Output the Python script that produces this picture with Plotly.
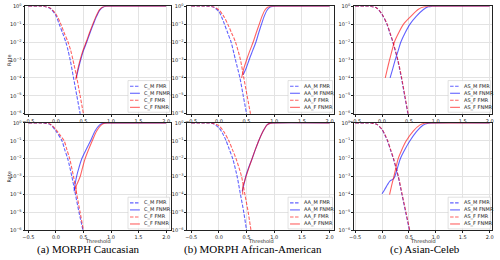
import plotly.graph_objects as go

# ---------------- data ----------------
x_tick_vals = [-0.5, 0.0, 0.5, 1.0, 1.5, 2.0]
x_tick_text = ["−0.5", "0.0", "0.5", "1.0", "1.5", "2.0"]
y_tick_vals = [1, 1e-1, 1e-2, 1e-3, 1e-4, 1e-5, 1e-6]
y_tick_text = ["10<sup>0</sup>", "10<sup>−1</sup>", "10<sup>−2</sup>", "10<sup>−3</sup>",
               "10<sup>−4</sup>", "10<sup>−5</sup>", "10<sup>−6</sup>"]

captions = ["(a) MORPH Caucasian", "(b) MORPH African-American", "(c) Asian-Celeb"]
group_prefix = ["C", "AA", "AS"]

# --- top row ---
# (a) Caucasian, top
top_c_m_fmr_t = [-0.5, -0.3, -0.2, -0.1, 0.0, 0.06, 0.12, 0.18, 0.22, 0.26, 0.32, 0.38, 0.44, 0.47]
top_c_m_fmr_r = [1.0, 0.995, 0.96, 0.74, 0.3, 0.1, 0.033, 0.01, 3.5e-3, 1e-3, 1e-4, 1e-5, 1e-6, 3e-7]
top_c_m_fnmr_t = [0.37, 0.41, 0.45, 0.50, 0.56, 0.62, 0.68, 0.74, 0.80, 0.86, 0.92, 1.0, 2.0]
top_c_m_fnmr_r = [1e-4, 3.3e-4, 1e-3, 3.3e-3, 1e-2, 3.3e-2, 0.1, 0.28, 0.62, 0.9, 0.99, 1.0, 1.0]
top_c_f_fmr_t = [-0.5, -0.3, -0.2, -0.1, 0.0, 0.09, 0.15, 0.22, 0.27, 0.31, 0.38, 0.44, 0.50, 0.53]
top_c_f_fmr_r = [1.0, 0.995, 0.965, 0.78, 0.37, 0.1, 0.033, 0.01, 3.3e-3, 1e-3, 1e-4, 1e-5, 1e-6, 3e-7]
top_c_f_fnmr_t = [0.36, 0.40, 0.44, 0.49, 0.55, 0.61, 0.67, 0.73, 0.79, 0.85, 0.91, 1.0, 2.0]
top_c_f_fnmr_r = [8e-5, 3.3e-4, 1e-3, 3.3e-3, 1e-2, 3.3e-2, 0.1, 0.28, 0.62, 0.9, 0.99, 1.0, 1.0]

# (b) African-American, top
top_aa_m_fmr_t = [-0.5, -0.3, -0.2, -0.1, 0.0, 0.05, 0.10, 0.16, 0.22, 0.30, 0.38, 0.44, 0.50, 0.53]
top_aa_m_fmr_r = [1.0, 0.998, 0.985, 0.9, 0.5, 0.25, 0.1, 0.032, 0.01, 1e-3, 1e-4, 1e-5, 1e-6, 3e-7]
top_aa_m_fnmr_t = [0.44, 0.49, 0.545, 0.61, 0.67, 0.72, 0.77, 0.82, 0.87, 0.92, 0.97, 1.05, 2.0]
top_aa_m_fnmr_r = [1.5e-4, 3.3e-4, 1e-3, 3.3e-3, 1e-2, 3.3e-2, 0.1, 0.28, 0.6, 0.88, 0.98, 1.0, 1.0]
top_aa_f_fmr_t = [-0.5, -0.3, -0.2, -0.1, 0.0, 0.08, 0.16, 0.23, 0.30, 0.39, 0.45, 0.51, 0.57, 0.60]
top_aa_f_fmr_r = [1.0, 0.998, 0.99, 0.93, 0.62, 0.3, 0.1, 0.032, 0.01, 1e-3, 1e-4, 1e-5, 1e-6, 3e-7]
top_aa_f_fnmr_t = [0.41, 0.45, 0.50, 0.56, 0.62, 0.675, 0.73, 0.78, 0.83, 0.88, 0.93, 1.0, 2.0]
top_aa_f_fnmr_r = [1e-4, 3.3e-4, 1e-3, 3.3e-3, 1e-2, 3.3e-2, 0.1, 0.28, 0.6, 0.88, 0.98, 1.0, 1.0]

# (c) Asian-Celeb, top
top_as_m_fmr_t = [-0.5, -0.3, -0.2, -0.1, 0.0, 0.09, 0.145, 0.20, 0.29, 0.36, 0.42, 0.48, 0.51]
top_as_m_fmr_r = [1.0, 0.995, 0.97, 0.8, 0.35, 0.1, 0.032, 0.01, 1e-3, 1e-4, 1e-5, 1e-6, 3e-7]
top_as_m_fnmr_t = [0.15, 0.20, 0.245, 0.30, 0.35, 0.43, 0.52, 0.64, 0.77, 0.86, 0.93, 1.0, 2.0]
top_as_m_fnmr_r = [1e-4, 3.3e-4, 1e-3, 3.3e-3, 1e-2, 3.3e-2, 0.1, 0.28, 0.66, 0.93, 0.99, 1.0, 1.0]
top_as_f_fmr_t = [-0.5, -0.3, -0.2, -0.1, 0.0, 0.095, 0.15, 0.205, 0.295, 0.365, 0.425, 0.485, 0.515]
top_as_f_fmr_r = [1.0, 0.995, 0.97, 0.8, 0.36, 0.1, 0.032, 0.01, 1e-3, 1e-4, 1e-5, 1e-6, 3e-7]
top_as_f_fnmr_t = [0.06, 0.10, 0.14, 0.185, 0.23, 0.31, 0.40, 0.54, 0.67, 0.78, 0.86, 0.95, 2.0]
top_as_f_fnmr_r = [1e-4, 3.3e-4, 1e-3, 3.3e-3, 1e-2, 3.3e-2, 0.1, 0.28, 0.66, 0.93, 0.99, 1.0, 1.0]

# --- bottom row ---
# (a) Caucasian, bottom
bot_c_m_fmr_t = [-0.5, -0.3, -0.2, -0.1, 0.0, 0.11, 0.16, 0.215, 0.29, 0.355, 0.42, 0.49, 0.52]
bot_c_m_fmr_r = [1.0, 0.995, 0.97, 0.8, 0.35, 0.1, 0.032, 0.01, 1e-3, 1e-4, 1e-5, 1e-6, 3e-7]
bot_c_m_fnmr_t = [0.33, 0.35, 0.375, 0.42, 0.47, 0.55, 0.63, 0.71, 0.79, 0.85, 0.92, 1.0, 2.0]
bot_c_m_fnmr_r = [1.5e-4, 4e-4, 1e-3, 3.3e-3, 1e-2, 3.3e-2, 0.1, 0.35, 0.75, 0.95, 0.995, 1.0, 1.0]
bot_c_f_fmr_t = [-0.5, -0.3, -0.2, -0.1, 0.0, 0.08, 0.15, 0.20, 0.25, 0.32, 0.38, 0.44, 0.50, 0.53]
bot_c_f_fmr_r = [1.0, 0.996, 0.975, 0.84, 0.43, 0.2, 0.1, 0.032, 0.01, 1e-3, 1e-4, 1e-5, 1e-6, 3e-7]
bot_c_f_fnmr_t = [0.365, 0.37, 0.40, 0.44, 0.485, 0.53, 0.595, 0.66, 0.74, 0.82, 0.88, 0.95, 1.03, 2.0]
bot_c_f_fnmr_r = [1.1e-4, 3e-4, 5e-4, 1e-3, 3.3e-3, 1e-2, 3.3e-2, 0.1, 0.35, 0.75, 0.95, 0.995, 1.0, 1.0]

# (b) African-American, bottom
bot_aa_m_fmr_t = [-0.5, -0.3, -0.2, -0.1, 0.0, 0.07, 0.13, 0.19, 0.25, 0.33, 0.39, 0.45, 0.50, 0.53]
bot_aa_m_fmr_r = [1.0, 0.998, 0.985, 0.9, 0.53, 0.25, 0.1, 0.032, 0.01, 1e-3, 1e-4, 1e-5, 1e-6, 3e-7]
bot_aa_m_fnmr_t = [0.42, 0.45, 0.485, 0.54, 0.60, 0.66, 0.72, 0.80, 0.87, 0.93, 1.0, 2.0]
bot_aa_m_fnmr_r = [1.5e-4, 3.3e-4, 1e-3, 3.3e-3, 1e-2, 3.3e-2, 0.1, 0.35, 0.78, 0.97, 1.0, 1.0]
bot_aa_f_fmr_t = [-0.5, -0.3, -0.2, -0.1, 0.0, 0.09, 0.18, 0.245, 0.31, 0.41, 0.47, 0.53, 0.58, 0.61]
bot_aa_f_fmr_r = [1.0, 0.998, 0.99, 0.94, 0.7, 0.32, 0.1, 0.032, 0.01, 1e-3, 1e-4, 1e-5, 1e-6, 3e-7]
bot_aa_f_fnmr_t = [0.43, 0.435, 0.46, 0.49, 0.545, 0.60, 0.66, 0.72, 0.80, 0.87, 0.93, 1.0, 2.0]
bot_aa_f_fnmr_r = [1e-4, 3e-4, 5e-4, 1e-3, 3.3e-3, 1e-2, 3.3e-2, 0.1, 0.35, 0.78, 0.97, 1.0, 1.0]

# (c) Asian-Celeb, bottom
bot_as_m_fmr_t = [-0.5, -0.3, -0.2, -0.1, 0.0, 0.05, 0.10, 0.155, 0.21, 0.30, 0.37, 0.44, 0.51, 0.54]
bot_as_m_fmr_r = [1.0, 0.996, 0.975, 0.84, 0.42, 0.22, 0.1, 0.032, 0.01, 1e-3, 1e-4, 1e-5, 1e-6, 3e-7]
bot_as_m_fnmr_t = [0.0, 0.05, 0.10, 0.15, 0.20, 0.23, 0.27, 0.34, 0.43, 0.52, 0.64, 0.76, 0.86, 0.95, 2.0]
bot_as_m_fnmr_r = [1.1e-4, 1.9e-4, 3.5e-4, 5.8e-4, 7e-4, 9e-4, 2e-3, 1e-2, 3.5e-2, 0.1, 0.32, 0.74, 0.96, 1.0, 1.0]
bot_as_f_fmr_t = [-0.5, -0.3, -0.2, -0.1, 0.0, 0.055, 0.105, 0.16, 0.215, 0.305, 0.375, 0.445, 0.515, 0.545]
bot_as_f_fmr_r = [1.0, 0.996, 0.975, 0.84, 0.43, 0.22, 0.1, 0.032, 0.01, 1e-3, 1e-4, 1e-5, 1e-6, 3e-7]
bot_as_f_fnmr_t = [0.14, 0.18, 0.22, 0.26, 0.30, 0.37, 0.45, 0.58, 0.70, 0.79, 0.88, 0.95, 2.0]
bot_as_f_fnmr_r = [1e-4, 3.3e-4, 1e-3, 3.3e-3, 1e-2, 3.3e-2, 0.1, 0.35, 0.75, 0.95, 0.995, 1.0, 1.0]

panels = [
    [  # top row
        [(top_c_m_fmr_t, top_c_m_fmr_r), (top_c_m_fnmr_t, top_c_m_fnmr_r),
         (top_c_f_fmr_t, top_c_f_fmr_r), (top_c_f_fnmr_t, top_c_f_fnmr_r)],
        [(top_aa_m_fmr_t, top_aa_m_fmr_r), (top_aa_m_fnmr_t, top_aa_m_fnmr_r),
         (top_aa_f_fmr_t, top_aa_f_fmr_r), (top_aa_f_fnmr_t, top_aa_f_fnmr_r)],
        [(top_as_m_fmr_t, top_as_m_fmr_r), (top_as_m_fnmr_t, top_as_m_fnmr_r),
         (top_as_f_fmr_t, top_as_f_fmr_r), (top_as_f_fnmr_t, top_as_f_fnmr_r)],
    ],
    [  # bottom row
        [(bot_c_m_fmr_t, bot_c_m_fmr_r), (bot_c_m_fnmr_t, bot_c_m_fnmr_r),
         (bot_c_f_fmr_t, bot_c_f_fmr_r), (bot_c_f_fnmr_t, bot_c_f_fnmr_r)],
        [(bot_aa_m_fmr_t, bot_aa_m_fmr_r), (bot_aa_m_fnmr_t, bot_aa_m_fnmr_r),
         (bot_aa_f_fmr_t, bot_aa_f_fmr_r), (bot_aa_f_fnmr_t, bot_aa_f_fnmr_r)],
        [(bot_as_m_fmr_t, bot_as_m_fmr_r), (bot_as_m_fnmr_t, bot_as_m_fnmr_r),
         (bot_as_f_fmr_t, bot_as_f_fmr_r), (bot_as_f_fnmr_t, bot_as_f_fnmr_r)],
    ],
]
series_suffix = ["_M FMR", "_M FNMR", "_F FMR", "_F FNMR"]

# ---------------- styling / layout ----------------
W, H = 500, 260
BLUE = "rgba(0,0,255,0.62)"
RED = "rgba(255,0,0,0.62)"
series_color = [BLUE, BLUE, RED, RED]
series_dash = ["3.5px,1.5px", "solid", "3.5px,1.5px", "solid"]

col_px = [(20.7, 168.0), (184.5, 333.0), (353.3, 493.0)]
row_px = [(3.3, 113.3), (122.7, 232.7)]
col_xrange = [(-0.552, 2.088), (-0.571, 2.08), (-0.52, 2.046)]
legend_w = [42.0, 45.0, 43.0]

TICK_FONT = dict(family="DejaVu Sans", size=5, color="#222")
LAB_FONT = dict(family="DejaVu Sans", size=5, color="#222")
LEG_FONT = dict(family="DejaVu Sans", size=5, color="#222")

fig = go.Figure()
layout = dict(
    width=W, height=H, margin=dict(l=0, r=0, t=0, b=0),
    paper_bgcolor="white", plot_bgcolor="white", showlegend=False,
)
shapes, annotations = [], []

for r in range(2):
    for c in range(3):
        k = r * 3 + c + 1
        sx = "" if k == 1 else str(k)
        x0p, x1p = col_px[c]
        y0p, y1p = row_px[r]
        pw, ph = x1p - x0p, y1p - y0p
        layout["xaxis" + sx] = dict(
            domain=[x0p / W, x1p / W], anchor="y" + sx, range=list(col_xrange[c]),
            tickvals=x_tick_vals, ticktext=x_tick_text, tickfont=TICK_FONT,
            showgrid=True, gridcolor="#e3e3e3", gridwidth=0.7, zeroline=False,
            showline=True, linecolor="#222", linewidth=0.8, mirror=True,
            ticks="outside", ticklen=2, tickwidth=0.6, tickcolor="#222",
        )
        layout["yaxis" + sx] = dict(
            domain=[1 - y1p / H, 1 - y0p / H], anchor="x" + sx, type="log", range=[-6, 0],
            tickvals=y_tick_vals, ticktext=y_tick_text, tickfont=TICK_FONT,
            showgrid=True, gridcolor="#e3e3e3", gridwidth=0.7, zeroline=False,
            showline=True, linecolor="#222", linewidth=0.8, mirror=True,
            ticks="outside", ticklen=2, tickwidth=0.6, tickcolor="#222",
        )
        names = [group_prefix[c] + s for s in series_suffix]
        for i, (tt, rr) in enumerate(panels[r][c]):
            fig.add_trace(go.Scatter(
                x=tt, y=rr, mode="lines", name=names[i],
                xaxis="x" + sx, yaxis="y" + sx,
                line=dict(color=series_color[i], width=1.1, dash=series_dash[i],
                          shape="spline", smoothing=0.8),
                hoverinfo="skip",
            ))
        # manual matplotlib-like legend (pixel offsets -> axis-domain fractions)
        bw, bh = legend_w[c], 32.4
        bx1 = pw - 1.5
        bx0 = bx1 - bw
        by_bot = 1.5
        by_top = by_bot + bh
        xd, yd = "x" + sx + " domain", "y" + sx + " domain"
        shapes.append(dict(type="rect", xref=xd, yref=yd,
                           x0=bx0 / pw, x1=bx1 / pw, y0=by_bot / ph, y1=by_top / ph,
                           fillcolor="rgba(255,255,255,0.85)",
                           line=dict(color="#cccccc", width=0.6), layer="above"))
        for i in range(4):
            yy = (by_top - 5.8 - 7.2 * i) / ph
            shapes.append(dict(type="line", xref=xd, yref=yd,
                               x0=(bx0 + 2.0) / pw, x1=(bx0 + 12.0) / pw, y0=yy, y1=yy,
                               line=dict(color=series_color[i], width=1.1,
                                         dash=series_dash[i]), layer="above"))
            annotations.append(dict(xref=xd, yref=yd, x=(bx0 + 14.5) / pw, y=yy,
                                    text=names[i], showarrow=False, xanchor="left",
                                    yanchor="middle", font=LEG_FONT))
        # x-axis title on bottom row
        if r == 1:
            annotations.append(dict(xref="paper", yref="paper", x=(x0p + x1p) / 2 / W,
                                    y=1 - 243.8 / H, text="Threshold", showarrow=False,
                                    xanchor="center", yanchor="middle", font=LAB_FONT))
    # y-axis title "Rate" for the row
    annotations.append(dict(xref="paper", yref="paper", x=4.0 / W,
                            y=1 - (row_px[r][0] + row_px[r][1]) / 2 / H, text="Rate",
                            textangle=-90, showarrow=False, xanchor="center",
                            yanchor="middle", font=LAB_FONT))

caption_x = [85.0, 251.0, 425.0]
for c in range(3):
    annotations.append(dict(xref="paper", yref="paper", x=caption_x[c] / W, y=1 - 252.5 / H,
                            text=captions[c], showarrow=False, xanchor="center",
                            yanchor="middle",
                            font=dict(family="Liberation Serif", size=11, color="black")))

layout["shapes"] = shapes
layout["annotations"] = annotations
fig.update_layout(**layout)
fig.write_html(
    "out.html",
    config={"displayModeBar": False},
    post_script="document.body.style.margin='0';document.body.style.padding='0';"
                "document.body.style.overflow='hidden';",
)
